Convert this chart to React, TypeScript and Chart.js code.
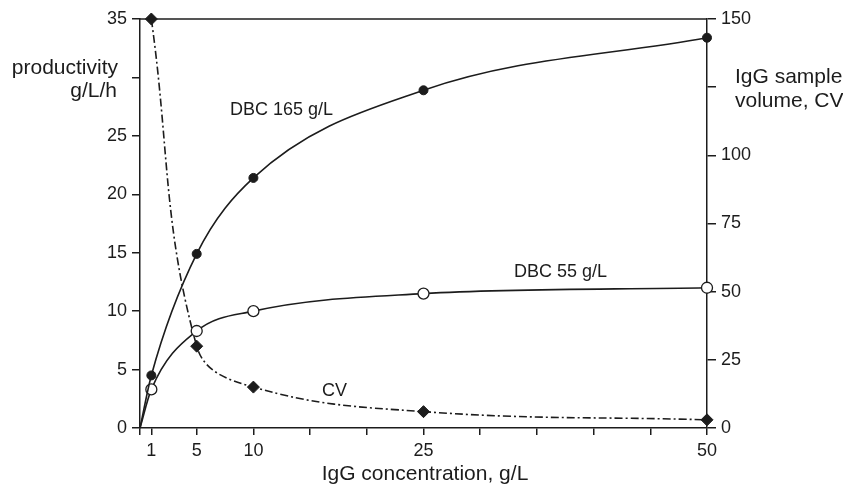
import React, { useEffect, useRef } from 'react';
import { Chart, registerables } from 'chart.js';

Chart.register(...registerables);

// ---- data ----
const concentrations = [1, 5, 10, 25, 50];
const dbc165Productivity = [4.5, 14.9, 21.4, 28.9, 33.4];
const dbc55Productivity = [3.3, 8.3, 10.0, 11.5, 12.0];
const cvSampleVolume = [150, 30, 15, 6, 3];
const xTickValues = [0, 1, 5, 10, 15, 20, 25, 30, 35, 40, 45, 50];
const xTickLabels = [1, 5, 10, 25, 50];
const leftUnlabeled = [30];
const rightUnlabeled = [125];

const FONT = "'Liberation Sans', Arial, Helvetica, sans-serif";
const INK = '#1c1c1c';

const withOrigin = (vals: number[]) => [
  { x: 0, y: 0 },
  ...concentrations.map((c, i) => ({ x: c, y: vals[i] })),
];

const textPlugin = {
  id: 'textLabels',
  beforeDatasetsDraw(chart: any) {
    const { ctx, chartArea: a } = chart;
    ctx.save();
    ctx.strokeStyle = INK;
    ctx.lineWidth = 1.5;
    ctx.beginPath();
    ctx.moveTo(a.left, a.top);
    ctx.lineTo(a.right, a.top);
    ctx.stroke();
    ctx.restore();
  },
  afterDraw(chart: any) {
    const { ctx } = chart;
    ctx.save();
    ctx.fillStyle = INK;
    ctx.textBaseline = 'alphabetic';
    ctx.font = `21px ${FONT}`;
    ctx.textAlign = 'right';
    ctx.fillText('productivity', 118, 74);
    ctx.fillText('g/L/h', 117, 97);
    ctx.textAlign = 'left';
    ctx.fillText('IgG sample', 735, 83);
    ctx.fillText('volume, CV', 735, 107);
    ctx.textAlign = 'center';
    ctx.fillText('IgG concentration, g/L', 425, 480);
    ctx.font = `18px ${FONT}`;
    ctx.textAlign = 'left';
    ctx.fillText('DBC 165 g/L', 230, 115);
    ctx.fillText('DBC 55 g/L', 514, 277);
    ctx.fillText('CV', 322, 396);
    ctx.restore();
  },
};

export default function App() {
  const ref = useRef<HTMLCanvasElement | null>(null);

  useEffect(() => {
    if (!ref.current) return;
    const hideFirst = (r: number) => (c: any) => (c.dataIndex === 0 ? 0 : r);
    const chart = new Chart(ref.current, {
      type: 'line',
      data: {
        datasets: [
          {
            label: 'DBC 165 g/L',
            data: withOrigin(dbc165Productivity),
            yAxisID: 'y',
            borderColor: INK,
            borderWidth: 1.6,
            backgroundColor: INK,
            pointBackgroundColor: INK,
            pointBorderColor: INK,
            pointRadius: hideFirst(4.5),
            pointBorderWidth: 1,
            cubicInterpolationMode: 'monotone',
            clip: false,
          },
          {
            label: 'DBC 55 g/L',
            data: withOrigin(dbc55Productivity),
            yAxisID: 'y',
            borderColor: INK,
            borderWidth: 1.6,
            backgroundColor: '#ffffff',
            pointBackgroundColor: '#ffffff',
            pointBorderColor: INK,
            pointRadius: hideFirst(5.5),
            pointBorderWidth: 1.3,
            cubicInterpolationMode: 'monotone',
            clip: false,
          },
          {
            label: 'CV',
            data: concentrations.map((c, i) => ({ x: c, y: cvSampleVolume[i] })),
            yAxisID: 'y2',
            borderColor: INK,
            borderWidth: 1.6,
            borderDash: [8, 3, 2, 3],
            backgroundColor: INK,
            pointBackgroundColor: INK,
            pointBorderColor: INK,
            pointStyle: 'rectRot',
            pointRadius: 6,
            pointBorderWidth: 1,
            tension: 0.4,
            clip: false,
          },
        ],
      },
      options: {
        animation: false,
        responsive: false,
        layout: { padding: { top: 19, left: 0, right: 0, bottom: 0 } },
        plugins: { legend: { display: false }, tooltip: { enabled: false }, title: { display: false } },
        scales: {
          x: {
            type: 'linear',
            min: 0,
            max: 50,
            afterBuildTicks: (s: any) => {
              s.ticks = xTickValues.map((v) => ({ value: v }));
            },
            afterFit: (s: any) => {
              s.height = 61;
            },
            ticks: {
              autoSkip: false,
              maxRotation: 0,
              padding: 5,
              color: INK,
              font: { family: FONT, size: 18 },
              callback: (v: any) => (xTickLabels.includes(Number(v)) ? String(v) : ''),
            },
            grid: { drawOnChartArea: false, drawTicks: true, tickLength: 7, color: INK, lineWidth: 1.5 },
            border: { display: true, color: INK, width: 1.5 },
          },
          y: {
            type: 'linear',
            position: 'left',
            min: 0,
            max: 35,
            afterFit: (s: any) => {
              s.width = 140;
            },
            ticks: {
              stepSize: 5,
              padding: 5,
              color: INK,
              font: { family: FONT, size: 18 },
              callback: (v: any) => (leftUnlabeled.includes(Number(v)) ? '' : String(v)),
            },
            grid: { drawOnChartArea: false, drawTicks: true, tickLength: 8, color: INK, lineWidth: 1.5 },
            border: { display: true, color: INK, width: 1.5 },
          },
          y2: {
            type: 'linear',
            position: 'right',
            min: 0,
            max: 150,
            afterFit: (s: any) => {
              s.width = 136;
            },
            ticks: {
              stepSize: 25,
              padding: 5,
              color: INK,
              font: { family: FONT, size: 18 },
              callback: (v: any) => (rightUnlabeled.includes(Number(v)) ? '' : String(v)),
            },
            grid: { drawOnChartArea: false, drawTicks: true, tickLength: 9, color: INK, lineWidth: 1.5 },
            border: { display: true, color: INK, width: 1.5 },
          },
        },
      },
      plugins: [textPlugin],
    } as any);
    return () => chart.destroy();
  }, []);

  return (
    <div style={{ position: 'absolute', left: 0, top: 0, width: 843, height: 489, background: '#fff' }}>
      <canvas ref={ref} width={843} height={489} style={{ display: 'block' }} />
    </div>
  );
}
